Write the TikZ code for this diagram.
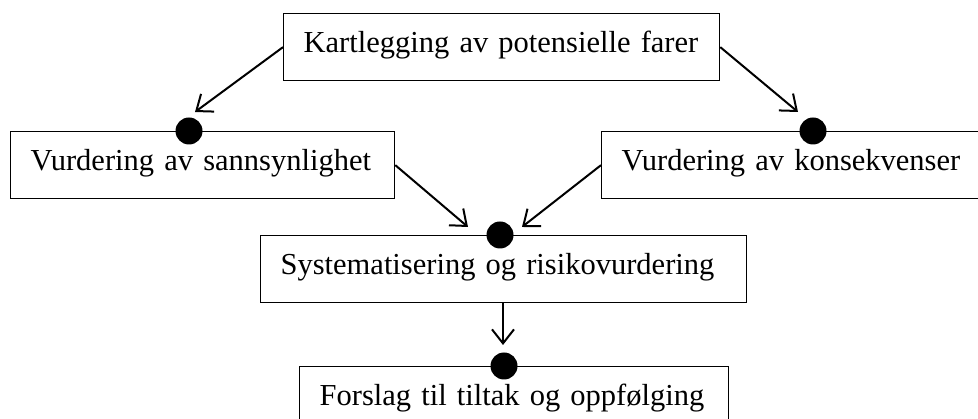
\documentclass[tikz,border=0pt]{standalone}
\usepackage{fontspec}
\setmainfont{Liberation Serif}
\usepackage{tikz}
\usetikzlibrary{arrows.meta, positioning}
\tikzstyle{arrow} = [line width=2pt,-{Straight Barb[length=14pt,width=22pt]}]
\tikzstyle{box} = [draw, line width=1.3pt, anchor=north west, inner xsep=20pt, inner ysep=0pt, align=left, text height=39pt, text depth=28pt, font=\fontsize{30.5}{36}\selectfont]
\tikzstyle{dot} = [circle, fill=black, inner sep=0pt, minimum size=27pt]

\begin{document}
\begin{tikzpicture}[x=1pt, y=-1pt]
        \path[use as bounding box, clip] (0,0) rectangle (978,419);
        % Boxes
        \node (kart) [box, text width=396pt] at (283,13) {Kartlegging av potensielle farer};
        \node (sann) [box, text width=344pt] at (10,131) {Vurdering av sannsynlighet};
        \node (kons) [box, text width=349pt] at (601,131) {Vurdering av konsekvenser};
        \node (sys) [box, text width=446pt] at (260,235) {Systematisering og risikovurdering};
        \node (tiltak) [box, text width=389pt] at (299,366) {Forslag til tiltak og oppf\o lging};
        % Dots
        \node (d1) [dot] at (189,131) {};
        \node (d2) [dot] at (813,131) {};
        \node (d3) [dot] at (500,235) {};
        \node (d4) [dot] at (504,366) {};
        % Arrow tips
        \coordinate (t1) at (195,112);
        \coordinate (t2) at (798,112);
        \coordinate (t3) at (468,227);
        \coordinate (t4) at (522,227);
        \coordinate (t5) at (503,345);
        \draw [arrow] (kart.west) -- (t1);
        \draw [arrow] (kart.east) -- (t2);
        \draw [arrow] (sann.east) -- (t3);
        \draw [arrow] (kons.west) -- (t4);
        \draw [arrow] (sys.south -| t5) -- (t5);
\end{tikzpicture}
\end{document}
